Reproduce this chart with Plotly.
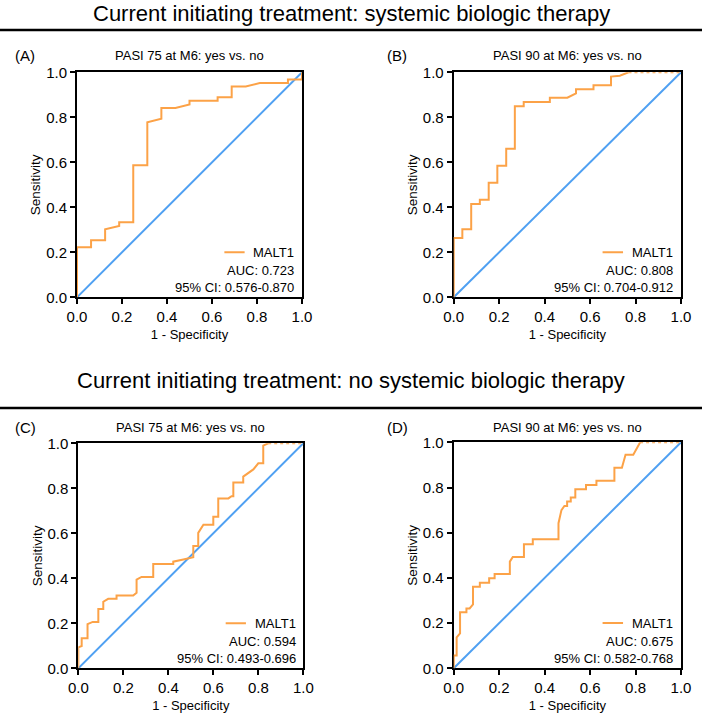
import plotly.graph_objects as go

# ---------------- data ----------------
section_titles = ["Current initiating treatment: systemic biologic therapy",
                  "Current initiating treatment: no systemic biologic therapy"]
panel_letters = ["(A)", "(B)", "(C)", "(D)"]
panel_titles = ["PASI 75 at M6: yes vs. no", "PASI 90 at M6: yes vs. no",
                "PASI 75 at M6: yes vs. no", "PASI 90 at M6: yes vs. no"]
series_name = "MALT1"
auc_text = ["AUC: 0.723", "AUC: 0.808", "AUC: 0.594", "AUC: 0.675"]
ci_text = ["95% CI: 0.576-0.870", "95% CI: 0.704-0.912",
           "95% CI: 0.493-0.696", "95% CI: 0.582-0.768"]
tick_vals = [0.0, 0.2, 0.4, 0.6, 0.8, 1.0]
x_title = "1 - Specificity"
y_title = "Sensitivity"

ref_x = [0, 1]
ref_y = [0, 1]

A_fpr = [0, 0, 0.0625, 0.0625, 0.125, 0.125, 0.1875, 0.1875, 0.25, 0.25, 0.3125, 0.3125,
         0.375, 0.375, 0.4375, 0.5, 0.5, 0.625, 0.625, 0.6875, 0.6875, 0.75, 0.8125,
         0.9375, 0.9375, 1.0, 1.0]
A_tpr = [0, 0.222, 0.222, 0.254, 0.254, 0.302, 0.317, 0.333, 0.333, 0.587, 0.587, 0.778,
         0.794, 0.841, 0.841, 0.857, 0.873, 0.873, 0.889, 0.889, 0.937, 0.937, 0.952,
         0.952, 0.968, 0.968, 1.0]

B_fpr = [0, 0, 0.038, 0.038, 0.077, 0.077, 0.115, 0.115, 0.154, 0.154, 0.192, 0.192,
         0.231, 0.231, 0.269, 0.269, 0.308, 0.308, 0.423, 0.423, 0.5, 0.538, 0.538,
         0.615, 0.615, 0.692, 0.692, 0.731, 0.769, 1.0]
B_tpr = [0, 0.264, 0.264, 0.302, 0.302, 0.415, 0.415, 0.434, 0.434, 0.509, 0.509, 0.585,
         0.585, 0.660, 0.660, 0.849, 0.849, 0.868, 0.868, 0.887, 0.887, 0.906, 0.925,
         0.925, 0.943, 0.943, 0.981, 0.985, 1.0, 1.0]

C_fpr = [0, 0, 0.015, 0.015, 0.041, 0.041, 0.064, 0.089, 0.089, 0.111, 0.111, 0.133,
         0.170, 0.170, 0.244, 0.259, 0.259, 0.281, 0.333, 0.333, 0.422, 0.422, 0.467,
         0.511, 0.511, 0.533, 0.533, 0.556, 0.600, 0.600, 0.622, 0.622, 0.667, 0.681,
         0.689, 0.689, 0.733, 0.733, 0.778, 0.800, 0.822, 0.822, 0.844, 1.0]
C_tpr = [0, 0.093, 0.099, 0.133, 0.133, 0.196, 0.206, 0.206, 0.263, 0.263, 0.296, 0.309,
         0.309, 0.323, 0.323, 0.336, 0.394, 0.406, 0.406, 0.464, 0.464, 0.474, 0.484,
         0.494, 0.544, 0.544, 0.602, 0.638, 0.638, 0.673, 0.673, 0.755, 0.755, 0.765,
         0.765, 0.826, 0.826, 0.852, 0.884, 0.911, 0.911, 0.990, 1.0, 1.0]

D_fpr = [0, 0, 0.013, 0.013, 0.028, 0.028, 0.056, 0.056, 0.070, 0.085, 0.085, 0.115,
         0.115, 0.156, 0.156, 0.180, 0.180, 0.247, 0.247, 0.260, 0.309, 0.309, 0.348,
         0.348, 0.461, 0.461, 0.474, 0.487, 0.499, 0.499, 0.515, 0.515, 0.535, 0.535,
         0.582, 0.582, 0.628, 0.628, 0.707, 0.707, 0.740, 0.756, 0.790, 0.806, 0.815,
         0.820, 1.0]
D_tpr = [0, 0.057, 0.057, 0.137, 0.155, 0.248, 0.248, 0.265, 0.265, 0.283, 0.361, 0.361,
         0.379, 0.379, 0.398, 0.398, 0.417, 0.417, 0.472, 0.493, 0.493, 0.549, 0.549,
         0.571, 0.571, 0.642, 0.700, 0.718, 0.718, 0.738, 0.738, 0.756, 0.756, 0.792,
         0.792, 0.811, 0.811, 0.830, 0.830, 0.887, 0.887, 0.945, 0.945, 0.970, 0.990,
         1.0, 1.0]

curves = [(A_fpr, A_tpr), (B_fpr, B_tpr), (C_fpr, C_tpr), (D_fpr, D_tpr)]

# ---------------- styles / layout ----------------
W, H = 702, 716
ORANGE = "#FCA247"
BLUE = "#4FA0F2"
FONT = "Liberation Sans, Arial, Helvetica, sans-serif"

# plot boxes in pixels: (left, right, top, bottom)
boxes = [(77, 302, 72.3, 297.3), (453.7, 681, 72.3, 297.3),
         (78.3, 303.3, 443.3, 668.3), (453.7, 681, 442.3, 668.3)]
letter_x = [25, 397, 25, 397]
row_label_y = [55, 55, 427, 427]
section_y = [14, 381]
rule_y = [30, 408]

fig = go.Figure()
layout_axes = {}
annotations = []
shapes = []

for i, ((fx, fy), (l, r, t, b)) in enumerate(zip(curves, boxes)):
    n = "" if i == 0 else str(i + 1)
    xa, ya = "x" + n, "y" + n
    # reference diagonal
    fig.add_trace(go.Scatter(x=ref_x, y=ref_y, xaxis=xa, yaxis=ya, mode="lines",
                             line=dict(color=BLUE, width=2), showlegend=False,
                             hoverinfo="skip"))
    # split curve at first point reaching sensitivity 1 (tail runs along the frame)
    k = next(j for j, v in enumerate(fy) if v >= 1.0)
    fig.add_trace(go.Scatter(x=fx[:k + 1], y=fy[:k + 1], xaxis=xa, yaxis=ya, mode="lines",
                             line=dict(color=ORANGE, width=2), name=series_name,
                             showlegend=False))
    if k < len(fy) - 1:
        fig.add_trace(go.Scatter(x=fx[k:], y=fy[k:], xaxis=xa, yaxis=ya, mode="lines",
                                 line=dict(color=ORANGE, width=2, dash="3px,3px"),
                                 name=series_name, showlegend=False))
    common = dict(range=[0, 1], tickvals=tick_vals, tickformat=".1f", ticks="outside",
                  ticklen=5, tickwidth=2, tickcolor="black", showline=True, linewidth=2,
                  linecolor="black", mirror=True, showgrid=False, zeroline=False,
                  automargin=False, layer="below traces",
                  tickfont=dict(size=15, color="black", family=FONT))
    layout_axes["xaxis" + n] = dict(common, domain=[l / W, r / W], anchor=ya,
                                    title=dict(text=x_title, standoff=6,
                                               font=dict(size=13, color="black", family=FONT)))
    layout_axes["yaxis" + n] = dict(common, domain=[1 - b / H, 1 - t / H], anchor=xa,
                                    title=dict(text=y_title, standoff=2,
                                               font=dict(size=13.5, color="black", family=FONT)))
    # panel letter and title
    annotations.append(dict(text=panel_letters[i], x=letter_x[i] / W, y=1 - row_label_y[i] / H,
                            xref="paper", yref="paper", xanchor="center", yanchor="middle",
                            showarrow=False, font=dict(size=15, color="black", family=FONT)))
    annotations.append(dict(text=panel_titles[i], x=(l + r) / 2 / W, y=1 - row_label_y[i] / H,
                            xref="paper", yref="paper", xanchor="center", yanchor="middle",
                            showarrow=False, font=dict(size=13, color="black", family=FONT)))
    # legend-like block
    annotations.append(dict(text=series_name, x=0.975, y=0.2, xref=xa, yref=ya,
                            xanchor="right", yanchor="middle", showarrow=False,
                            font=dict(size=13, color="black", family=FONT)))
    annotations.append(dict(text=auc_text[i], x=0.975, y=0.118, xref=xa, yref=ya,
                            xanchor="right", yanchor="middle", showarrow=False,
                            font=dict(size=13, color="black", family=FONT)))
    annotations.append(dict(text=ci_text[i], x=0.975, y=0.042, xref=xa, yref=ya,
                            xanchor="right", yanchor="middle", showarrow=False,
                            font=dict(size=13, color="black", family=FONT)))
    shapes.append(dict(type="line", xref=xa, yref=ya, x0=0.655, x1=0.745, y0=0.2, y1=0.2,
                       line=dict(color=ORANGE, width=2)))

for s, yy, ry in zip(section_titles, section_y, rule_y):
    annotations.append(dict(text=s, x=0.5, y=1 - yy / H, xref="paper", yref="paper",
                            xanchor="center", yanchor="middle", showarrow=False,
                            font=dict(size=22, color="black", family=FONT)))
    shapes.append(dict(type="line", xref="paper", yref="paper", x0=0, x1=1,
                       y0=1 - ry / H, y1=1 - ry / H, line=dict(color="black", width=2.5)))

fig.update_layout(width=W, height=H, margin=dict(l=0, r=0, t=0, b=0, autoexpand=False),
                  paper_bgcolor="white", plot_bgcolor="white",
                  annotations=annotations, shapes=shapes, showlegend=False,
                  font=dict(family=FONT, color="black"), **layout_axes)

fig.write_html("out.html",
               post_script="document.body.style.margin='0';document.body.style.padding='0';")
